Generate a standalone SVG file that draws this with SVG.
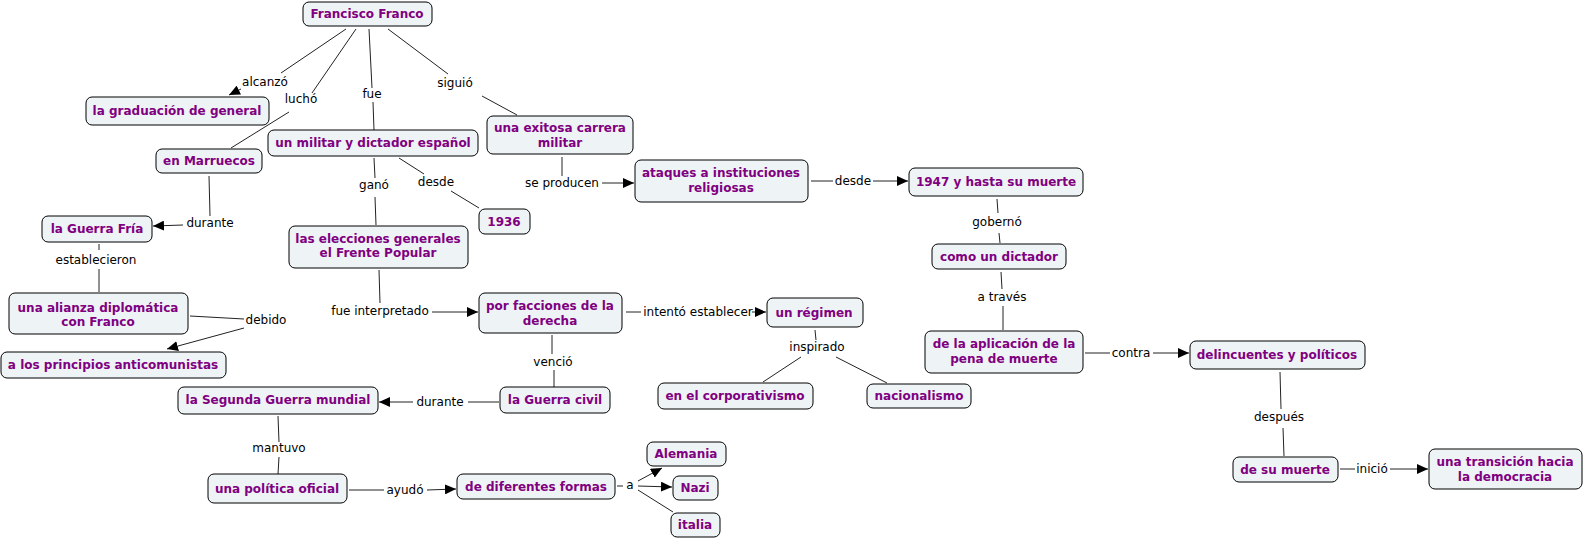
<svg xmlns="http://www.w3.org/2000/svg" width="1585" height="540" viewBox="0 0 1585 540">
<style>
.n rect{fill:#eef3f6;stroke:#000;stroke-width:1}
.n text{font-family:"DejaVu Sans",Verdana,sans-serif;font-weight:bold;font-size:12px;fill:#800080;text-anchor:middle}
.lb{font-family:"DejaVu Sans",Verdana,sans-serif;font-size:12px;fill:#000;text-anchor:middle}
.c line{stroke:#222;stroke-width:1}
.c line.a{marker-end:url(#ah)}
</style>
<defs>
<marker id="ah" markerUnits="userSpaceOnUse" markerWidth="12" markerHeight="10" refX="11" refY="5" orient="auto">
<path d="M0,0 L11,5 L0,10 Z" fill="#000"/>
</marker>
</defs>
<rect width="1585" height="540" fill="#fff"/>
<g id="connectors" class="c">
<line x1="346" y1="29" x2="281" y2="73"/>
<line x1="241" y1="89" x2="229" y2="95" class="a"/>
<line x1="356" y1="29" x2="312" y2="93"/>
<line x1="289" y1="112" x2="231" y2="148"/>
<line x1="369" y1="29" x2="372" y2="88"/>
<line x1="373" y1="102" x2="374" y2="130"/>
<line x1="388" y1="29" x2="448" y2="74"/>
<line x1="482" y1="96" x2="517" y2="115"/>
<line x1="374" y1="158" x2="375" y2="178"/>
<line x1="375" y1="197" x2="376" y2="225"/>
<line x1="399" y1="158" x2="424" y2="174"/>
<line x1="451" y1="191" x2="479" y2="208"/>
<line x1="209" y1="176" x2="210" y2="216"/>
<line x1="183" y1="225" x2="153" y2="226" class="a"/>
<line x1="99" y1="244" x2="99" y2="250"/>
<line x1="99" y1="269" x2="99" y2="292"/>
<line x1="190" y1="316" x2="244" y2="319"/>
<line x1="244" y1="328" x2="167" y2="349" class="a"/>
<line x1="379" y1="270" x2="380" y2="303"/>
<line x1="432" y1="312" x2="478" y2="312" class="a"/>
<line x1="626" y1="312" x2="641" y2="312"/>
<line x1="752" y1="312" x2="766" y2="312" class="a"/>
<line x1="552" y1="335" x2="552" y2="354"/>
<line x1="554" y1="370" x2="554" y2="387"/>
<line x1="499" y1="402" x2="468" y2="402"/>
<line x1="413" y1="402" x2="379" y2="402" class="a"/>
<line x1="815" y1="330" x2="816" y2="340"/>
<line x1="801" y1="357" x2="763" y2="382"/>
<line x1="836" y1="357" x2="887" y2="383"/>
<line x1="278" y1="416" x2="279" y2="442"/>
<line x1="279" y1="457" x2="278" y2="474"/>
<line x1="349" y1="490" x2="384" y2="490"/>
<line x1="427" y1="490" x2="456" y2="489" class="a"/>
<line x1="617" y1="486" x2="623" y2="486"/>
<line x1="638" y1="481" x2="662" y2="468" class="a"/>
<line x1="638" y1="486" x2="672" y2="487" class="a"/>
<line x1="638" y1="490" x2="673" y2="512"/>
<line x1="562" y1="157" x2="562" y2="176"/>
<line x1="602" y1="183" x2="634" y2="183" class="a"/>
<line x1="811" y1="181" x2="833" y2="181"/>
<line x1="873" y1="181" x2="908" y2="181" class="a"/>
<line x1="997" y1="199" x2="998" y2="213"/>
<line x1="999" y1="233" x2="1000" y2="243"/>
<line x1="1001" y1="272" x2="1002" y2="289"/>
<line x1="1003" y1="306" x2="1003" y2="330"/>
<line x1="1085" y1="353" x2="1110" y2="353"/>
<line x1="1153" y1="353" x2="1189" y2="353" class="a"/>
<line x1="1280" y1="372" x2="1281" y2="409"/>
<line x1="1283" y1="428" x2="1284" y2="456"/>
<line x1="1340" y1="469" x2="1355" y2="469"/>
<line x1="1390" y1="469" x2="1428" y2="469" class="a"/>
<text class="lb" x="265" y="86">alcanzó</text>
<text class="lb" x="301" y="103">luchó</text>
<text class="lb" x="372" y="98">fue</text>
<text class="lb" x="455" y="87">siguió</text>
<text class="lb" x="374" y="189">ganó</text>
<text class="lb" x="436" y="186">desde</text>
<text class="lb" x="210" y="227">durante</text>
<text class="lb" x="96" y="264">establecieron</text>
<text class="lb" x="266" y="324">debido</text>
<text class="lb" x="380" y="315">fue interpretado</text>
<text class="lb" x="698" y="316">intentó establecer</text>
<text class="lb" x="553" y="366">venció</text>
<text class="lb" x="440" y="406">durante</text>
<text class="lb" x="817" y="351">inspirado</text>
<text class="lb" x="279" y="452">mantuvo</text>
<text class="lb" x="405" y="494">ayudó</text>
<text class="lb" x="630" y="489">a</text>
<text class="lb" x="562" y="187">se producen</text>
<text class="lb" x="853" y="185">desde</text>
<text class="lb" x="997" y="226">gobernó</text>
<text class="lb" x="1002" y="301">a través</text>
<text class="lb" x="1131" y="357">contra</text>
<text class="lb" x="1279" y="421">después</text>
<text class="lb" x="1372" y="473">inició</text>
</g>
<g id="n-franco" class="n"><rect x="303" y="2" width="129" height="24" rx="6"/><text x="367" y="18">Francisco Franco</text></g>
<g id="n-graduacion" class="n"><rect x="86" y="97" width="183" height="28" rx="6"/><text x="177" y="115">la graduación de general</text></g>
<g id="n-marruecos" class="n"><rect x="156" y="149" width="106" height="24" rx="6"/><text x="209" y="165">en Marruecos</text></g>
<g id="n-militar" class="n"><rect x="268" y="130" width="210" height="26" rx="6"/><text x="373" y="147">un militar y dictador español</text></g>
<g id="n-carrera" class="n"><rect x="487" y="116" width="146" height="38" rx="6"/><text x="560" y="132">una exitosa carrera</text><text x="560" y="147">militar</text></g>
<g id="n-1936" class="n"><rect x="479" y="209" width="51" height="25" rx="6"/><text x="504" y="226">1936</text></g>
<g id="n-guerrafria" class="n"><rect x="42" y="216" width="110" height="26" rx="6"/><text x="97" y="233">la Guerra Fría</text></g>
<g id="n-elecciones" class="n"><rect x="289" y="226" width="179" height="42" rx="6"/><text x="378" y="243">las elecciones generales</text><text x="378" y="257">el Frente Popular</text></g>
<g id="n-alianza" class="n"><rect x="9" y="293" width="179" height="41" rx="6"/><text x="98" y="312">una alianza diplomática</text><text x="98" y="326">con Franco</text></g>
<g id="n-principios" class="n"><rect x="1" y="352" width="225" height="26" rx="6"/><text x="113" y="369">a los principios anticomunistas</text></g>
<g id="n-facciones" class="n"><rect x="479" y="293" width="143" height="40" rx="6"/><text x="550" y="310">por facciones de la</text><text x="550" y="325">derecha</text></g>
<g id="n-regimen" class="n"><rect x="767" y="298" width="96" height="29" rx="6"/><text x="814" y="317">un régimen</text></g>
<g id="n-civil" class="n"><rect x="500" y="387" width="110" height="26" rx="6"/><text x="555" y="404">la Guerra civil</text></g>
<g id="n-segunda" class="n"><rect x="178" y="387" width="200" height="27" rx="6"/><text x="278" y="404">la Segunda Guerra mundial</text></g>
<g id="n-corporativismo" class="n"><rect x="658" y="383" width="155" height="26" rx="6"/><text x="735" y="400">en el corporativismo</text></g>
<g id="n-nacionalismo" class="n"><rect x="867" y="384" width="104" height="24" rx="6"/><text x="919" y="400">nacionalismo</text></g>
<g id="n-politica" class="n"><rect x="208" y="474" width="139" height="29" rx="6"/><text x="277" y="493">una política oficial</text></g>
<g id="n-formas" class="n"><rect x="457" y="474" width="158" height="25" rx="6"/><text x="536" y="491">de diferentes formas</text></g>
<g id="n-alemania" class="n"><rect x="647" y="442" width="79" height="24" rx="6"/><text x="686" y="458">Alemania</text></g>
<g id="n-nazi" class="n"><rect x="673" y="476" width="45" height="24" rx="6"/><text x="695" y="492">Nazi</text></g>
<g id="n-italia" class="n"><rect x="671" y="513" width="49" height="24" rx="6"/><text x="695" y="529">italia</text></g>
<g id="n-ataques" class="n"><rect x="635" y="160" width="173" height="42" rx="6"/><text x="721" y="177">ataques a instituciones</text><text x="721" y="192">religiosas</text></g>
<g id="n-1947" class="n"><rect x="909" y="168" width="174" height="28" rx="6"/><text x="996" y="186">1947 y hasta su muerte</text></g>
<g id="n-dictador" class="n"><rect x="932" y="244" width="134" height="25" rx="6"/><text x="999" y="261">como un dictador</text></g>
<g id="n-aplicacion" class="n"><rect x="925" y="331" width="158" height="42" rx="6"/><text x="1004" y="348">de la aplicación de la</text><text x="1004" y="363">pena de muerte</text></g>
<g id="n-delincuentes" class="n"><rect x="1190" y="341" width="175" height="28" rx="6"/><text x="1277" y="359">delincuentes y políticos</text></g>
<g id="n-sumuerte" class="n"><rect x="1233" y="457" width="105" height="25" rx="6"/><text x="1285" y="474">de su muerte</text></g>
<g id="n-transicion" class="n"><rect x="1429" y="449" width="153" height="40" rx="6"/><text x="1505" y="466">una transición hacia</text><text x="1505" y="481">la democracia</text></g>
</svg>
